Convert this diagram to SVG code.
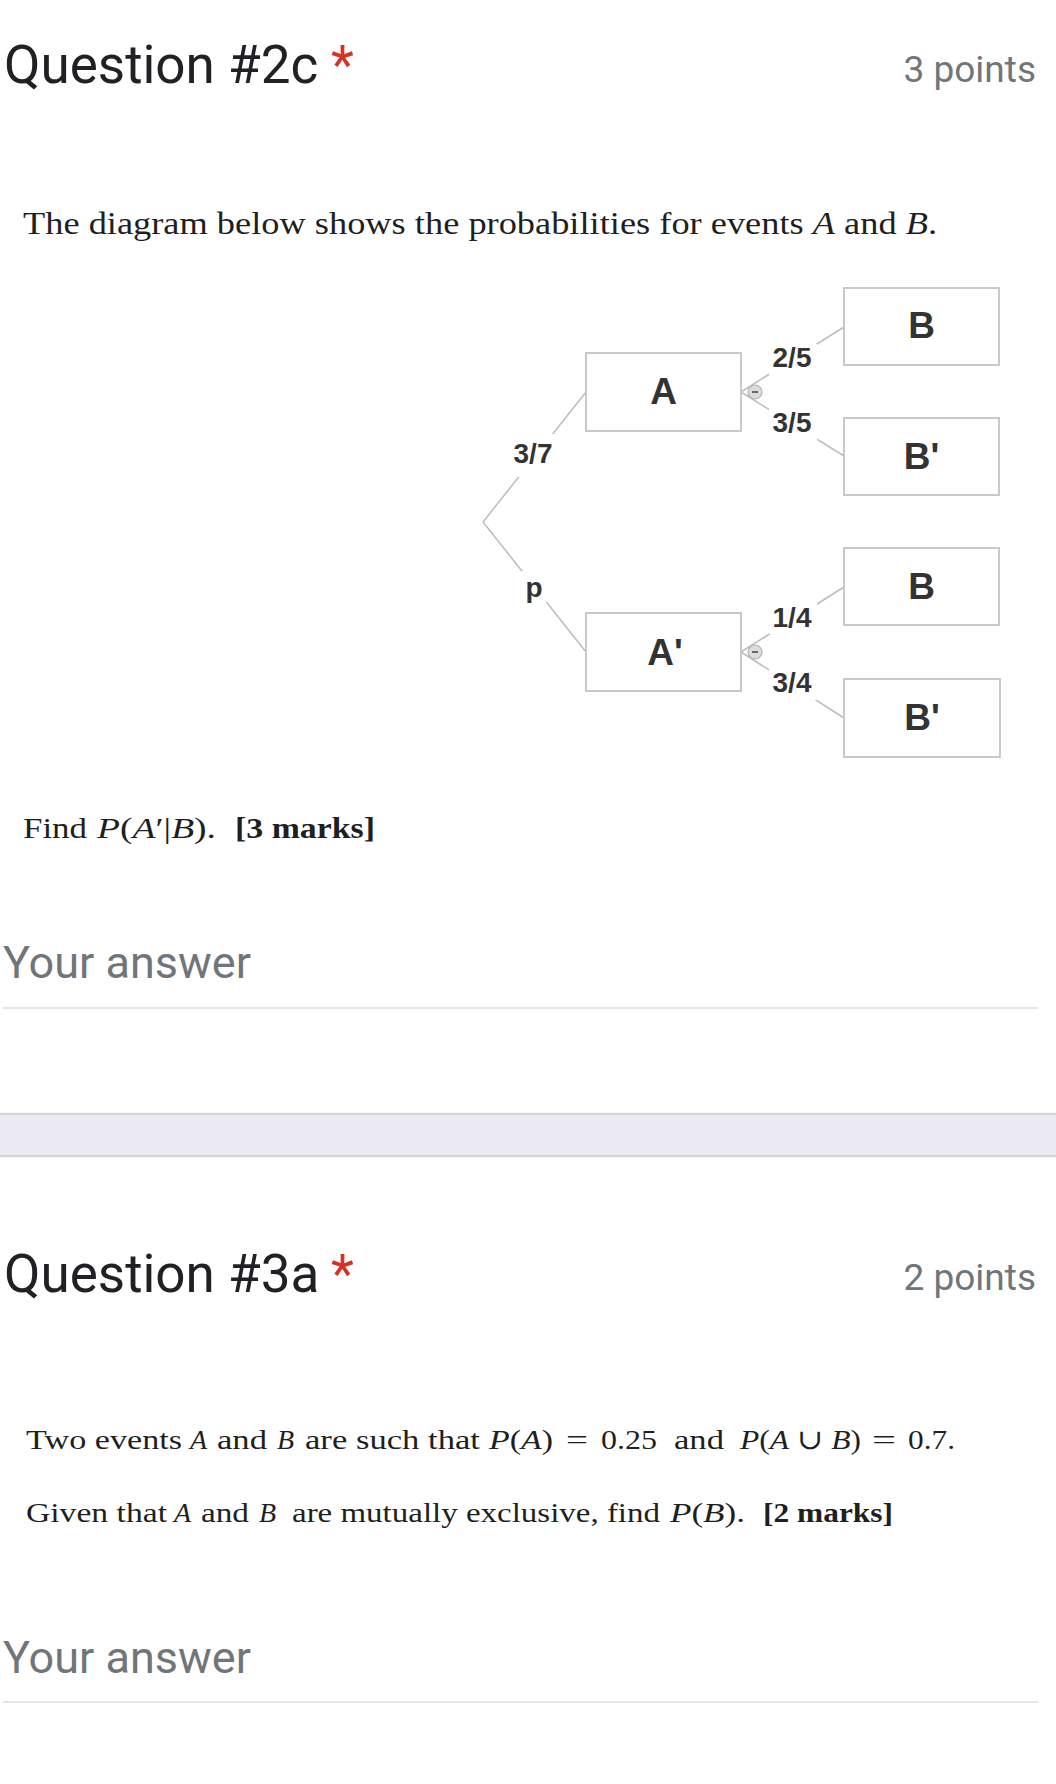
<svg xmlns="http://www.w3.org/2000/svg" width="1056" height="1784" viewBox="0 0 1056 1784">
<style>
.hdr{font-family:Roboto,"Liberation Sans",sans-serif;font-size:53px;fill:#202124}
.star{font-family:Roboto,"Liberation Sans",sans-serif;font-size:53px;fill:#d93025}
.pts{font-family:Roboto,"Liberation Sans",sans-serif;font-size:37px;fill:#70757a;text-anchor:end}
.ans{font-family:Roboto,"Liberation Sans",sans-serif;font-size:45px;fill:#70757a}
.ser{font-family:"Liberation Serif","DejaVu Serif",serif;fill:#1f1f1f}
.s30{font-size:30px}
.s28{font-size:28px}
.it{font-style:italic}
.bd{font-weight:bold}
.box{fill:#ffffff;stroke:#c9c9c9;stroke-width:2}
.nt{font-family:"Liberation Sans",Arial,sans-serif;font-weight:bold;font-size:37px;fill:#333333;text-anchor:middle}
.lbl{font-family:"Liberation Sans",Arial,sans-serif;font-weight:bold;font-size:28px;fill:#333333;text-anchor:middle}
.edge{stroke:#bdbdbd;stroke-width:1.5;fill:none}
.mask{fill:#ffffff}
.tog{fill:#dcdcdc;stroke:#b3b3b3;stroke-width:1.2}
.minus{stroke:#666666;stroke-width:2}
.rule{stroke:#dadce0;stroke-width:1.5}
.band{fill:#eceaf4}
.bandline{stroke:#d6d6da;stroke-width:2.5}
</style>
<rect x="0" y="0" width="1056" height="1784" fill="#ffffff"/>

<g id="q2c-header">
<text class="hdr" x="4" y="83">Question #2c</text>
<text class="star" x="331" y="83">*</text>
<text class="pts" x="1036" y="82">3 points</text>
</g>

<g id="q2c-intro">
<text class="ser" x="23" y="234" font-size="31" textLength="914" lengthAdjust="spacingAndGlyphs">The diagram below shows the probabilities for events <tspan class="it">A</tspan> and <tspan class="it">B</tspan>.</text>
</g>

<g id="connectors">
<line class="edge" x1="483" y1="522" x2="586" y2="392"/>
<line class="edge" x1="483" y1="522" x2="586" y2="652"/>
<line class="edge" x1="741" y1="392" x2="844" y2="327"/>
<line class="edge" x1="741" y1="392" x2="844" y2="456"/>
<line class="edge" x1="741" y1="652" x2="844" y2="587"/>
<line class="edge" x1="741" y1="652" x2="844" y2="718"/>
<rect class="mask" x="508" y="434" width="50" height="43"/>
<text class="lbl" x="533" y="463">3/7</text>
<rect class="mask" x="515" y="571" width="37" height="31"/>
<text class="lbl" x="534" y="597">p</text>
<rect class="mask" x="769" y="344" width="48" height="31"/>
<text class="lbl" x="792" y="367">2/5</text>
<rect class="mask" x="769" y="409" width="48" height="31"/>
<text class="lbl" x="792" y="432">3/5</text>
<rect class="mask" x="769" y="603" width="48" height="31"/>
<text class="lbl" x="792" y="627">1/4</text>
<rect class="mask" x="769" y="669" width="48" height="31"/>
<text class="lbl" x="792" y="692">3/4</text>
</g>

<g id="node-A">
<rect class="box" x="586" y="353" width="155" height="78"/>
<text class="nt" x="663.5" y="404">A</text>
</g>
<g id="node-A-toggle">
<circle class="tog" cx="755" cy="392" r="7"/>
<line class="minus" x1="752" y1="392" x2="758" y2="392"/>
</g>
<g id="node-A-prime">
<rect class="box" x="586" y="613" width="155" height="78"/>
<text class="nt" x="665" y="665">A'</text>
</g>
<g id="node-A-prime-toggle">
<circle class="tog" cx="755" cy="652" r="7"/>
<line class="minus" x1="752" y1="652" x2="758" y2="652"/>
</g>
<g id="node-B1">
<rect class="box" x="844" y="288" width="155" height="77"/>
<text class="nt" x="921.5" y="338">B</text>
</g>
<g id="node-Bp1">
<rect class="box" x="844" y="418" width="155" height="77"/>
<text class="nt" x="921.5" y="469">B'</text>
</g>
<g id="node-B2">
<rect class="box" x="844" y="548" width="155" height="77"/>
<text class="nt" x="921.5" y="599">B</text>
</g>
<g id="node-Bp2">
<rect class="box" x="844" y="679" width="156" height="78"/>
<text class="nt" x="922" y="730">B'</text>
</g>

<g id="q2c-task">
<text class="ser s30" x="23" y="838" textLength="64" lengthAdjust="spacingAndGlyphs">Find</text>
<text class="ser s30" x="97" y="838" textLength="119" lengthAdjust="spacingAndGlyphs"><tspan class="it">P</tspan>(<tspan class="it">A</tspan>′|<tspan class="it">B</tspan>).</text>
<text class="ser s30 bd" x="235" y="838" textLength="140" lengthAdjust="spacingAndGlyphs">[3 marks]</text>
</g>

<g id="q2c-answer">
<text class="ans" x="3" y="978">Your answer</text>
<line class="rule" x1="3" y1="1008" x2="1038" y2="1008"/>
</g>

<g id="separator">
<rect class="band" x="0" y="1114" width="1056" height="42"/>
<line class="bandline" x1="0" y1="1114" x2="1056" y2="1114"/>
<line class="bandline" x1="0" y1="1156" x2="1056" y2="1156"/>
</g>

<g id="q3a-header">
<text class="hdr" x="4" y="1292">Question #3a</text>
<text class="star" x="331" y="1292">*</text>
<text class="pts" x="1036" y="1290">2 points</text>
</g>

<g id="q3a-line1">
<text class="ser s28" x="26" y="1449" textLength="156" lengthAdjust="spacingAndGlyphs">Two events</text>
<text class="ser s28 it" x="190" y="1449">A</text>
<text class="ser s28" x="217" y="1449" textLength="50" lengthAdjust="spacingAndGlyphs">and</text>
<text class="ser s28 it" x="277" y="1449">B</text>
<text class="ser s28" x="305" y="1449" textLength="175" lengthAdjust="spacingAndGlyphs">are such that</text>
<text class="ser s28" x="489" y="1449" textLength="64" lengthAdjust="spacingAndGlyphs"><tspan class="it">P</tspan>(<tspan class="it">A</tspan>)</text>
<text class="ser s28" x="566" y="1449" textLength="22" lengthAdjust="spacingAndGlyphs">=</text>
<text class="ser s28" x="601" y="1449" textLength="56" lengthAdjust="spacingAndGlyphs">0.25</text>
<text class="ser s28" x="674" y="1449" textLength="50" lengthAdjust="spacingAndGlyphs">and</text>
<text class="ser s28" x="740" y="1449" textLength="121" lengthAdjust="spacingAndGlyphs"><tspan class="it">P</tspan>(<tspan class="it">A</tspan> ∪ <tspan class="it">B</tspan>)</text>
<text class="ser s28" x="872" y="1449" textLength="24" lengthAdjust="spacingAndGlyphs">=</text>
<text class="ser s28" x="908" y="1449" textLength="47" lengthAdjust="spacingAndGlyphs">0.7.</text>
</g>

<g id="q3a-line2">
<text class="ser s28" x="26" y="1522" textLength="141" lengthAdjust="spacingAndGlyphs">Given that</text>
<text class="ser s28 it" x="174" y="1522">A</text>
<text class="ser s28" x="201" y="1522" textLength="48" lengthAdjust="spacingAndGlyphs">and</text>
<text class="ser s28 it" x="259" y="1522">B</text>
<text class="ser s28" x="292" y="1522" textLength="368" lengthAdjust="spacingAndGlyphs">are mutually exclusive, find</text>
<text class="ser s28" x="670" y="1522" textLength="75" lengthAdjust="spacingAndGlyphs"><tspan class="it">P</tspan>(<tspan class="it">B</tspan>).</text>
<text class="ser s28 bd" x="763" y="1522" textLength="130" lengthAdjust="spacingAndGlyphs">[2 marks]</text>
</g>

<g id="q3a-answer">
<text class="ans" x="3" y="1673">Your answer</text>
<line class="rule" x1="3" y1="1702" x2="1038" y2="1702"/>
</g>
</svg>
